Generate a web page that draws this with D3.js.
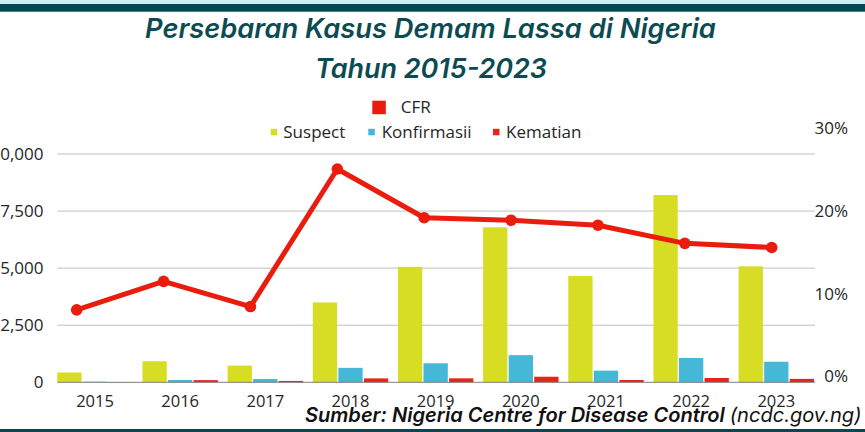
<!DOCTYPE html>
<html>
<head>
<meta charset="utf-8">
<script src="https://cdn.jsdelivr.net/npm/d3@7"></script>
<style>
  html, body { margin: 0; padding: 0; background: #ffffff; }
  svg { display: block; }
</style>
</head>
<body>
<svg id="chart" width="865" height="432"></svg>
<script>
// ---- DATA ----
const years = ["2015","2016","2017","2018","2019","2020","2021","2022","2023"];
const suspect = [430, 921, 733, 3498, 5057, 6791, 4654, 8202, 5080];
const konfirmasi = [25, 101, 143, 633, 833, 1189, 510, 1067, 900];
const kematian = [12, 95, 60, 171, 174, 244, 102, 189, 150];
const cfr = [0.0805, 0.115, 0.0845, 0.251, 0.192, 0.189, 0.183, 0.161, 0.156];
const leftTicks = [0, 2500, 5000, 7500, 10000];
const rightTicks = [0, 0.10, 0.20, 0.30];
const seriesNames = ["Suspect", "Konfirmasii", "Kematian"];
const titleLines = ["Persebaran Kasus Demam Lassa di Nigeria", "Tahun 2015-2023"];

// ---- STYLE ----
const colors = { Suspect: "#d7dd22", Konfirmasii: "#44b8d6", Kematian: "#e8241a" };
const cfrColor = "#ea1c0e";
const teal = "#024a52";
const textFont = "'Open Sans', sans-serif";
const titleFont = "Inter, sans-serif";

const svg = d3.select("#chart");

// top bands
svg.append("rect").attr("x", 0).attr("y", 0).attr("width", 865).attr("height", 4).attr("fill", "#cdeef5");
svg.append("rect").attr("x", 0).attr("y", 4).attr("width", 865).attr("height", 7.7).attr("fill", teal);
// bottom band
svg.append("rect").attr("x", 0).attr("y", 429).attr("width", 865).attr("height", 3).attr("fill", teal);

// scales
const plotL = 57.3, plotR = 815;
const x0 = d3.scaleBand().domain(years).range([57.3, 814]).paddingInner(0.1146).paddingOuter(0);
const x1 = d3.scaleBand().domain(seriesNames).range([0, x0.bandwidth()]).paddingInner(0.05).paddingOuter(0);
const yL = d3.scaleLinear().domain([0, 10000]).range([382.3, 154]);
const yR = d3.scaleLinear().domain([0, 0.30]).range([376.4, 128.5]);
const xP = d3.scalePoint().domain(years).range([76.7, 771.7]);

// gridlines
svg.append("g").selectAll("line").data(leftTicks.filter(d => d > 0)).join("line")
  .attr("x1", plotL).attr("x2", plotR)
  .attr("y1", d => yL(d)).attr("y2", d => yL(d))
  .attr("stroke", "#bfbfbf").attr("stroke-width", 1);

// left axis labels
const axL = d3.axisLeft(yL).tickValues(leftTicks).tickFormat(d3.format(",")).tickSize(0).tickPadding(0);
const gL = svg.append("g").attr("transform", "translate(43.5,0)").call(axL);
gL.select(".domain").remove();
gL.selectAll("text").attr("font-family", textFont).attr("font-size", 17).attr("fill", "#262626");

// right axis labels
const axR = d3.axisRight(yR).tickValues(rightTicks).tickFormat(d3.format(".0%")).tickSize(0).tickPadding(0);
const gR = svg.append("g").attr("transform", "translate(848,0)").call(axR);
gR.select(".domain").remove();
gR.selectAll("text").attr("text-anchor", "end").attr("font-family", textFont).attr("font-size", 17).attr("fill", "#262626");

// x axis labels
const axB = d3.axisBottom(x0).tickSize(0).tickPadding(0);
const gB = svg.append("g").attr("transform", "translate(0,391)").call(axB);
gB.select(".domain").remove();
gB.selectAll("text").attr("font-family", textFont).attr("font-size", 16.5).attr("fill", "#262626").attr("dy", "0.95em");

// bars
const table = years.map((y, i) => ({ year: y, vals: [
  { key: "Suspect", v: suspect[i] },
  { key: "Konfirmasii", v: konfirmasi[i] },
  { key: "Kematian", v: kematian[i] }
]}));
svg.append("g").selectAll("g").data(table).join("g")
  .attr("transform", d => `translate(${x0(d.year)},0)`)
  .selectAll("rect").data(d => d.vals).join("rect")
  .attr("x", d => x1(d.key))
  .attr("width", x1.bandwidth())
  .attr("y", d => yL(d.v))
  .attr("height", d => yL(0) - yL(d.v))
  .attr("fill", d => colors[d.key]);

// baseline
svg.append("line").attr("x1", plotL).attr("x2", plotR).attr("y1", yL(0)).attr("y2", yL(0))
  .attr("stroke", "#7f7f7f").attr("stroke-width", 1);

// CFR line
const line = d3.line().x((d, i) => xP(years[i])).y(d => yR(d));
svg.append("path").datum(cfr).attr("d", line).attr("fill", "none")
  .attr("stroke", cfrColor).attr("stroke-width", 5).attr("stroke-linejoin", "round");
svg.append("g").selectAll("circle").data(cfr).join("circle")
  .attr("cx", (d, i) => xP(years[i])).attr("cy", d => yR(d)).attr("r", 5.8).attr("fill", cfrColor);

// legend
const lg = svg.append("g").attr("font-family", textFont).attr("font-size", 17).attr("fill", "#262626");
lg.append("rect").attr("x", 372.3).attr("y", 100.7).attr("width", 13.5).attr("height", 13.5).attr("fill", cfrColor);
lg.append("text").attr("x", 400.7).attr("y", 107.3).attr("dy", "0.35em").text("CFR");
const legendItems = [
  { key: "Suspect", sx: 270.7, tx: 283.3 },
  { key: "Konfirmasii", sx: 368.3, tx: 381.7 },
  { key: "Kematian", sx: 493, tx: 506 }
];
legendItems.forEach(it => {
  lg.append("rect").attr("x", it.sx).attr("y", 128.8).attr("width", 6.5).attr("height", 6.5).attr("fill", colors[it.key]);
  lg.append("text").attr("x", it.tx).attr("y", 132).attr("dy", "0.35em").text(it.key);
});

// title
const t = svg.append("g").attr("font-family", titleFont).attr("font-style", "italic")
  .attr("font-weight", 600).attr("fill", "#0d4b53").attr("text-anchor", "middle");
const t1 = t.append("text").attr("x", 430.5).attr("y", 37.5).attr("font-size", 27).text(titleLines[0]);
const t2 = t.append("text").attr("x", 431).attr("y", 77.5).attr("font-size", 27).text(titleLines[1]);
[[t1, 571], [t2, 232]].forEach(([el, w]) => {
  const len = el.node().getComputedTextLength();
  if (len > 0) el.attr("font-size", 27 * w / len);
});

// source
const src = svg.append("text").attr("x", 305).attr("y", 421.5).attr("font-family", titleFont)
  .attr("font-style", "italic").attr("font-size", 17).attr("fill", "#111");
src.append("tspan").attr("font-weight", 600).text("Sumber: Nigeria Centre for Disease Control ");
src.append("tspan").attr("font-weight", 400).text("(ncdc.gov.ng)");
const sl = src.node().getComputedTextLength();
if (sl > 0) src.attr("font-size", 17 * 557 / sl);
</script>
</body>
</html>
